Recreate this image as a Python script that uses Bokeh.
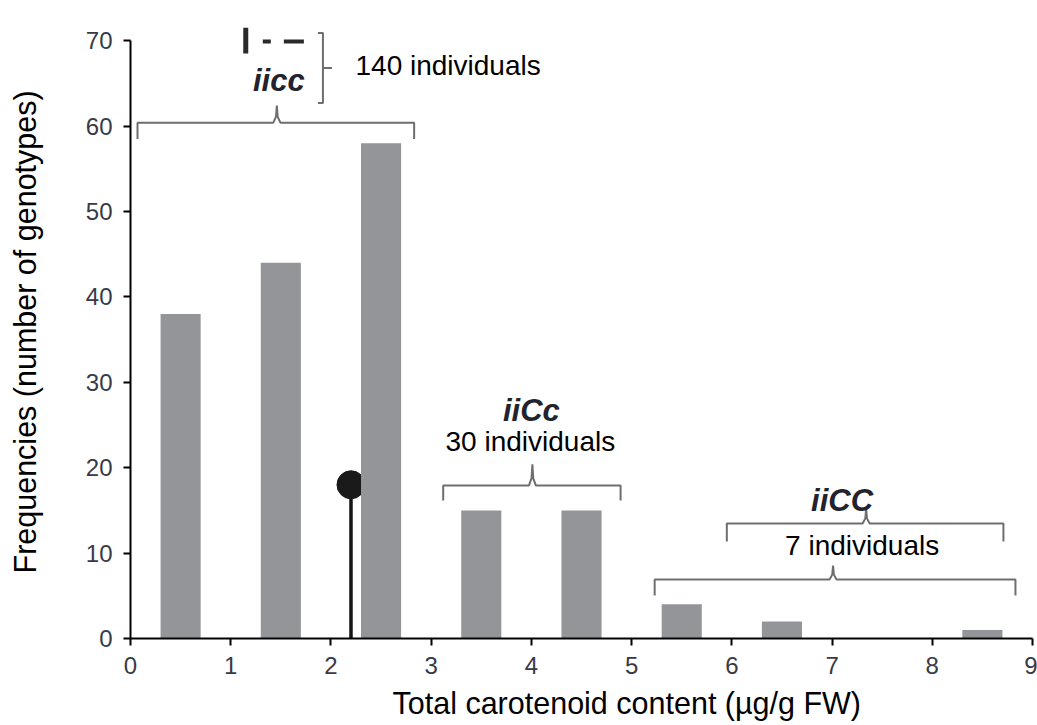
from bokeh.plotting import figure
from bokeh.models import Range1d, Label, FixedTicker, Title
from bokeh.embed import file_html
from bokeh.resources import INLINE

# ---- data ----
bin_centers = [0.5, 1.5, 2.5, 3.5, 4.5, 5.5, 6.5, 7.5, 8.5]
frequencies = [38, 44, 58, 15, 15, 4, 2, 0, 1]
x_ticks = [0, 1, 2, 3, 4, 5, 6, 7, 8, 9]
y_ticks = [0, 10, 20, 30, 40, 50, 60, 70]
marker_x = [2.2]
marker_y = [18]

FONT = "Liberation Sans"
BAR = "#939598"
BRK = "#6e6e6e"

p = figure(width=1037, height=725, output_backend="svg", toolbar_location=None,
           x_range=Range1d(0, 9), y_range=Range1d(0, 74),
           frame_width=902, frame_height=632,
           min_border_left=130, min_border_right=5, min_border_top=6, min_border_bottom=87)
p.outline_line_color = None
p.xgrid.visible = False
p.ygrid.visible = False
p.background_fill_color = "white"
p.border_fill_color = "white"

# lollipop marker
p.segment(x0=marker_x, y0=[0], x1=marker_x, y1=marker_y, line_width=3.5, line_color="#151515")
p.scatter(x=marker_x, y=marker_y, size=28, fill_color="#1a1a1a", line_color="#1a1a1a")

# bars
p.vbar(x=bin_centers, top=frequencies, width=0.4, fill_color=BAR, line_color=None)


def bracket(x0, x1, y, yend, pk, ytop):
    dx = 0.035
    xs = [x0, x0, pk - dx, pk - 0.008, pk, pk + 0.008, pk + dx, x1, x1]
    dy = (ytop - y)
    ys = [yend, y, y, y + dy * 0.35, ytop, y + dy * 0.35, y, y, yend]
    p.line(xs, ys, line_color=BRK, line_width=2)


bracket(0.07, 2.83, 60.4, 58.5, 1.46, 62.4)
bracket(3.12, 4.89, 17.9, 16.15, 4.01, 20.4)
bracket(5.95, 8.71, 13.46, 11.35, 7.34, 15.2)
bracket(5.23, 8.83, 6.9, 5.03, 7.01, 8.55)

# small symbol row above "iicc"
p.segment(x0=[1.15], y0=[68.5], x1=[1.15], y1=[71.5], line_width=5, line_color="#2a2a2a")
p.segment(x0=[1.32, 1.53], y0=[69.9, 69.9], x1=[1.40, 1.73], y1=[69.9, 69.9],
          line_width=4, line_color="#2a2a2a")
# right bracket "]" with point
p.line([1.87, 1.92, 1.92, 2.01, 1.92, 1.92, 1.87],
       [70.9, 70.9, 66.8, 66.8, 66.8, 62.7, 62.7], line_color=BRK, line_width=2)


def lab(x, y, t, size, style="normal", align="center", color="black"):
    p.add_layout(Label(x=x, y=y, text=t, text_font=FONT, text_font_size=f"{size}px",
                       text_font_style=style, text_align=align, text_baseline="middle",
                       text_color=color))


lab(1.48, 65.3, "iicc", 31, "bold italic", color="#22232e")
lab(2.245, 67.1, "140 individuals", 28, align="left")
lab(4.0, 26.7, "iiCc", 31, "bold italic", color="#22232e")
lab(3.99, 23.06, "30 individuals", 28)
lab(7.1, 16.15, "iiCC", 31, "bold italic", color="#22232e")
lab(7.3, 10.9, "7 individuals", 28)

# axes
for ax in (p.xaxis[0], p.yaxis[0]):
    ax.axis_line_color = "black"
    ax.axis_line_width = 2
    ax.major_tick_line_color = "black"
    ax.major_tick_line_width = 2
    ax.major_tick_in = 0
    ax.major_tick_out = 7
    ax.minor_tick_line_color = None
    ax.major_label_text_font = FONT
    ax.major_label_text_font_size = "24px"
    ax.major_label_text_color = "#383a48"

p.xaxis.ticker = FixedTicker(ticks=x_ticks)
p.yaxis.ticker = FixedTicker(ticks=y_ticks)
p.xaxis.bounds = (0, 9)
p.yaxis.bounds = (0, 70)
p.xaxis.major_label_standoff = 11
p.yaxis.major_label_standoff = 11

# axis titles (offset from the frame as in the reference)
p.add_layout(Title(text="Total carotenoid content (µg/g FW)", align="left", offset=262,
                   vertical_align="top", text_line_height=1.0,
                   text_font=FONT, text_font_size="30.5px", text_font_style="normal",
                   text_color="black", standoff=18), "below")
# spacer between the y axis and its title
p.add_layout(Title(text=" ", text_font_size="1px", standoff=34), "left")
p.add_layout(Title(text="Frequencies (number of genotypes)", align="left", offset=65,
                   vertical_align="top",
                   text_font=FONT, text_font_size="30.5px", text_font_style="normal",
                   text_color="black", standoff=4), "left")

open("out.html", "w").write(file_html(p, INLINE))
